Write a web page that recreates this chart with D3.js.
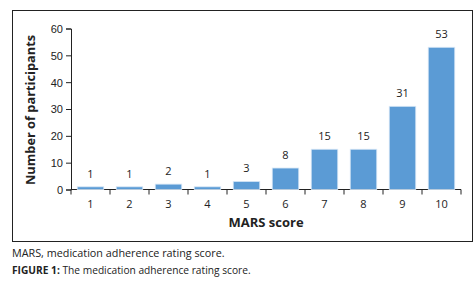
<!DOCTYPE html>
<html lang="en">
<head>
    <meta charset="UTF-8">
    <title>MARS score</title>
    <script src="https://d3js.org/d3.v7.min.js"></script>
    <style>
        body { margin: 0; background: white; font-family: "Open Sans", "Liberation Sans", sans-serif; }
        .axis text { font-size: 11px; fill: #222; }
        .axis path, .axis line { stroke: #222; }
        .bar { fill: #5b9bd5; stroke: #d6e6f5; stroke-width: 0.8; }
        .label { font-size: 11px; fill: #222; text-anchor: middle; }
        .title { font-weight: bold; fill: #222; text-anchor: middle; }
    </style>
</head>
<body>
<script>
    const width  = 476;
    const height = 295;

    const scores = ["1", "2", "3", "4", "5", "6", "7", "8", "9", "10"];
    const participants = [1, 1, 2, 1, 3, 8, 15, 15, 31, 53];
    const yTicks = [0, 10, 20, 30, 40, 50, 60];

    const svg = d3.select("body").append("svg").attr("width", width).attr("height", height);

    // frame round the chart
    svg.append("rect")
        .attr("x", 12.5).attr("y", 10.5)
        .attr("width", 460).attr("height", 231)
        .attr("fill", "none").attr("stroke", "#222").attr("stroke-width", 1);

    const x = d3.scaleBand().domain(scores).range([71, 461]).paddingInner(0.32).paddingOuter(0.16);
    const y = d3.scaleLinear().domain([0, 60]).range([189.5, 28.5]);

    svg.append("g").attr("class", "axis")
        .attr("transform", "translate(71,0)")
        .call(d3.axisLeft(y).tickValues(yTicks).tickSize(5).tickPadding(3))
        .call(g => g.selectAll("text").attr("dy", "0.35em"));

    // x axis: ticks between categories
    const xAxis = svg.append("g").attr("class", "axis")
        .attr("transform", "translate(0,189.5)");
    xAxis.append("line").attr("x1", 71).attr("x2", 461).attr("stroke", "#222");
    const step = x.step();
    xAxis.selectAll("line.tk")
        .data(d3.range(scores.length + 1))
        .enter().append("line").attr("class", "tk")
        .attr("x1", i => 71 + i * step).attr("x2", i => 71 + i * step)
        .attr("y1", 0).attr("y2", 5).attr("stroke", "#222");
    xAxis.selectAll("text")
        .data(scores)
        .enter().append("text")
        .attr("x", d => x(d) + x.bandwidth() / 2)
        .attr("y", 18)
        .attr("text-anchor", "middle")
        .text(d => d);

    svg.selectAll("rect.bar")
        .data(participants)
        .enter().append("rect").attr("class", "bar")
        .attr("x", (d, i) => x(scores[i]))
        .attr("width", x.bandwidth())
        .attr("y", d => y(d))
        .attr("height", d => y(0) - y(d));

    svg.selectAll("text.label")
        .data(participants)
        .enter().append("text").attr("class", "label")
        .attr("x", (d, i) => x(scores[i]) + x.bandwidth() / 2)
        .attr("y", d => y(d) - 9)
        .text(d => d);

    svg.append("text").attr("class", "title")
        .attr("font-size", "12.8px")
        .attr("transform", "translate(35,110) rotate(-90)")
        .text("Number of participants");

    svg.append("text").attr("class", "title")
        .attr("font-size", "13px")
        .attr("x", 266).attr("y", 226.5)
        .text("MARS score");

    svg.append("text")
        .attr("x", 12).attr("y", 257)
        .attr("font-size", "10.8px").attr("fill", "#222")
        .text("MARS, medication adherence rating score.");

    const cap = svg.append("text")
        .attr("x", 12).attr("y", 273.5)
        .attr("font-size", "10.2px").attr("fill", "#222");
    cap.append("tspan").attr("font-weight", "bold").text("FIGURE 1:");
    cap.append("tspan").text(" The medication adherence rating score.");
</script>
</body>
</html>
